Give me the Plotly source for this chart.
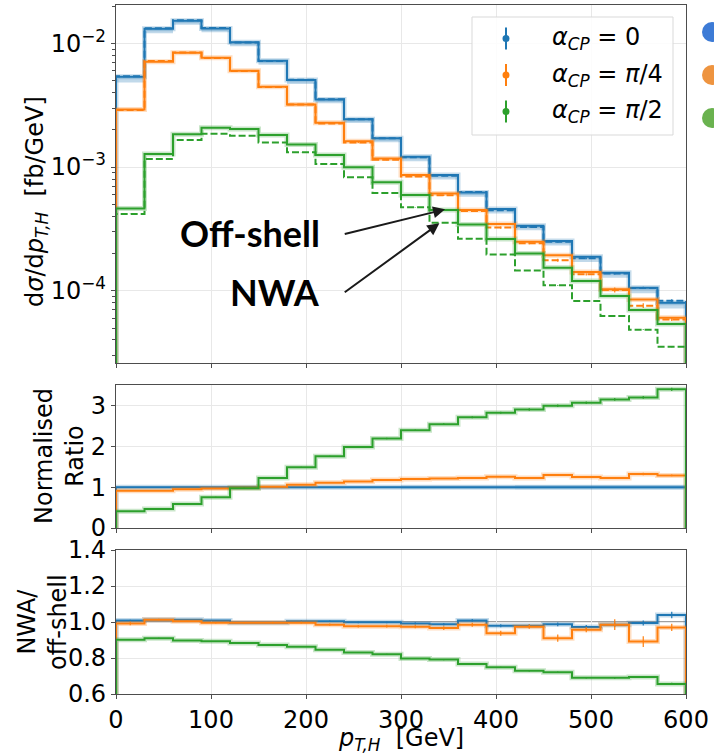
import plotly.graph_objects as go

# ---------------------------------------------------------------- data
bin_edges = [0, 30, 60, 90, 120, 150, 180, 210, 240, 270, 300,
             330, 360, 390, 420, 450, 480, 510, 540, 570, 600]

# off-shell differential cross sections  [fb/GeV]
offshell_cp0 = [5.37e-3, 1.31e-2, 1.52e-2, 1.32e-2, 1.02e-2, 7.23e-3, 5.05e-3,
                3.52e-3, 2.44e-3, 1.71e-3, 1.21e-3, 8.61e-4, 6.24e-4, 4.57e-4,
                3.35e-4, 2.52e-4, 1.88e-4, 1.40e-4, 1.06e-4, 8.0e-5]
offshell_cp_pi4 = [2.92e-3, 7.10e-3, 8.39e-3, 7.65e-3, 6.00e-3, 4.46e-3, 3.21e-3,
                   2.28e-3, 1.62e-3, 1.175e-3, 8.61e-4, 6.12e-4, 4.49e-4, 3.46e-4,
                   2.49e-4, 1.94e-4, 1.42e-4, 1.03e-4, 8.51e-5, 6.05e-5]
offshell_cp_pi2 = [4.63e-4, 1.274e-3, 1.845e-3, 2.08e-3, 2.03e-3, 1.815e-3, 1.525e-3,
                   1.25e-3, 9.95e-4, 7.52e-4, 5.94e-4, 4.49e-4, 3.44e-4, 2.62e-4,
                   2.00e-4, 1.535e-4, 1.197e-4, 9.06e-5, 6.98e-5, 5.38e-5]

# relative size of the alpha_CP = 0 uncertainty band (below the central line)
band_rel_cp0 = [0.10, 0.08, 0.07, 0.07, 0.07, 0.07, 0.07, 0.07, 0.07, 0.07,
                0.08, 0.08, 0.08, 0.08, 0.08, 0.08, 0.09, 0.09, 0.10, 0.10]

# NWA / off-shell
nwa_ratio_cp0 = [1.009, 1.013, 1.013, 1.008, 0.996, 0.996, 1.004, 1.004, 0.998, 0.998,
                 0.992, 0.987, 1.009, 0.979, 0.979, 0.987, 0.972, 0.985, 0.994, 1.039]
nwa_ratio_cp_pi4 = [0.992, 1.013, 1.004, 0.996, 0.996, 0.996, 0.996, 0.985, 0.977, 0.977,
                    0.974, 0.966, 0.985, 0.938, 0.974, 0.910, 0.957, 0.985, 0.891, 0.970]
nwa_ratio_cp_pi2 = [0.902, 0.910, 0.897, 0.893, 0.883, 0.872, 0.863, 0.846, 0.831, 0.821,
                    0.797, 0.791, 0.767, 0.748, 0.729, 0.721, 0.690, 0.690, 0.694, 0.656]
nwa_err_cp0 = [0.003, 0.003, 0.003, 0.003, 0.003, 0.003, 0.004, 0.004, 0.005, 0.005,
               0.006, 0.007, 0.008, 0.008, 0.009, 0.010, 0.012, 0.012, 0.014, 0.018]
nwa_err_cp_pi4 = [0.010, 0.005, 0.004, 0.004, 0.004, 0.005, 0.005, 0.006, 0.007, 0.008,
                  0.009, 0.010, 0.011, 0.014, 0.012, 0.020, 0.014, 0.030, 0.030, 0.020]
nwa_err_cp_pi2 = [0.002, 0.002, 0.002, 0.002, 0.002, 0.002, 0.002, 0.002, 0.003, 0.003,
                  0.003, 0.003, 0.003, 0.004, 0.004, 0.004, 0.004, 0.005, 0.005, 0.006]

# normalised ratio to alpha_CP = 0
norm_ratio_cp0 = [1.0] * 20
norm_band_cp0 = [0.03, 0.03, 0.03, 0.03, 0.03, 0.03, 0.03, 0.03, 0.03, 0.03,
                 0.04, 0.04, 0.04, 0.04, 0.05, 0.05, 0.05, 0.05, 0.05, 0.05]
norm_ratio_cp_pi4 = [0.91, 0.91, 0.951, 0.967, 0.984, 1.008, 1.057, 1.107, 1.139, 1.172,
                     1.197, 1.213, 1.221, 1.254, 1.221, 1.295, 1.246, 1.221, 1.32, 1.287]
norm_ratio_cp_pi2 = [0.41, 0.467, 0.59, 0.754, 0.975, 1.221, 1.484, 1.754, 1.984, 2.19,
                     2.393, 2.54, 2.713, 2.82, 2.90, 2.99, 3.066, 3.148, 3.197, 3.393]
norm_err_cp_pi4 = [0.005, 0.005, 0.005, 0.005, 0.005, 0.006, 0.006, 0.007, 0.008, 0.009,
                   0.010, 0.011, 0.012, 0.013, 0.014, 0.020, 0.016, 0.020, 0.030, 0.020]
norm_err_cp_pi2 = [0.005, 0.005, 0.006, 0.008, 0.010, 0.012, 0.014, 0.016, 0.018, 0.020,
                   0.020, 0.022, 0.024, 0.026, 0.028, 0.030, 0.030, 0.035, 0.035, 0.040]

series_names = ["α_CP = 0", "α_CP = π/4", "α_CP = π/2"]
legend_labels = ["<i>α</i><sub><i>CP</i></sub> = 0",
                 "<i>α</i><sub><i>CP</i></sub> = <i>π</i>/4",
                 "<i>α</i><sub><i>CP</i></sub> = <i>π</i>/2"]
colors = ["#1f77b4", "#ff7f0e", "#2ca02c"]
x_ticks = [0, 100, 200, 300, 400, 500, 600]

FONT = "DejaVu Sans"
FS = 24
AXIS_COLOR = "#4d4d4d"
GRID_COLOR = "#e8e8e8"

# figure geometry (pixels)
W, H = 714, 754
ML, MR, MT, MB = 116, 28, 5, 60
PW, PH = W - ML - MR, H - MT - MB


def px2x(px):
    return (px - ML) / PW


def py2y(py):
    return (H - MB - py) / PH


def step_xy(vals, base):
    """matplotlib-style 'step' histogram outline (with line_shape='hv')."""
    xs = [bin_edges[0]] + bin_edges[:-1] + [bin_edges[-1], bin_edges[-1]]
    ys = [base] + list(vals) + [vals[-1], base]
    return xs, ys


centers = [(a + b) / 2 for a, b in zip(bin_edges[:-1], bin_edges[1:])]

fig = go.Figure()

LOG_BASE = 1e-9

# ---------------------------------------------------------------- top panel
offshell = [offshell_cp0, offshell_cp_pi4, offshell_cp_pi2]
nwa_ratio = [nwa_ratio_cp0, nwa_ratio_cp_pi4, nwa_ratio_cp_pi2]
nwa_err = [nwa_err_cp0, nwa_err_cp_pi4, nwa_err_cp_pi2]

# uncertainty band for alpha_CP = 0
lo = [v * (1 - r) for v, r in zip(offshell_cp0, band_rel_cp0)]
hi = [v * 1.01 for v in offshell_cp0]
xs, ys = step_xy(lo, lo[0])
fig.add_trace(go.Scatter(x=xs[1:-1], y=ys[1:-1], mode="lines", line_shape="hv",
                         line=dict(width=0), hoverinfo="skip", showlegend=False,
                         xaxis="x", yaxis="y"))
xs, ys = step_xy(hi, hi[0])
fig.add_trace(go.Scatter(x=xs[1:-1], y=ys[1:-1], mode="lines", line_shape="hv",
                         line=dict(width=0), fill="tonexty",
                         fillcolor="rgba(31,119,180,0.28)", hoverinfo="skip",
                         showlegend=False, xaxis="x", yaxis="y"))

for i in range(3):
    nwa = [v * r for v, r in zip(offshell[i], nwa_ratio[i])]
    # NWA (dashed)
    xs, ys = step_xy(nwa, LOG_BASE)
    fig.add_trace(go.Scatter(x=xs, y=ys, mode="lines", line_shape="hv",
                             line=dict(color=colors[i], width=2, dash="7px,3px"),
                             name=series_names[i] + " NWA", showlegend=False,
                             xaxis="x", yaxis="y"))
    fig.add_trace(go.Scatter(x=centers, y=nwa, mode="markers",
                             marker=dict(size=1, color=colors[i], opacity=0),
                             error_y=dict(type="data", array=[v * e * 1.5 for v, e in zip(nwa, nwa_err[i])],
                                          color=colors[i], thickness=1.2, width=0),
                             showlegend=False, hoverinfo="skip", xaxis="x", yaxis="y"))
    # off-shell (solid) with a faint halo
    xs, ys = step_xy(offshell[i], LOG_BASE)
    fig.add_trace(go.Scatter(x=xs, y=ys, mode="lines", line_shape="hv",
                             line=dict(color=colors[i], width=5), opacity=0.25,
                             showlegend=False, hoverinfo="skip", xaxis="x", yaxis="y"))
    fig.add_trace(go.Scatter(x=xs, y=ys, mode="lines", line_shape="hv",
                             line=dict(color=colors[i], width=2),
                             name=series_names[i], showlegend=False,
                             xaxis="x", yaxis="y"))

# ---------------------------------------------------------------- middle panel
lo = [1 - b for b in norm_band_cp0]
hi = [1 + b for b in norm_band_cp0]
xs, ys = step_xy(lo, lo[0])
fig.add_trace(go.Scatter(x=xs[1:-1], y=ys[1:-1], mode="lines", line_shape="hv",
                         line=dict(width=0), hoverinfo="skip", showlegend=False,
                         xaxis="x2", yaxis="y2"))
xs, ys = step_xy(hi, hi[0])
fig.add_trace(go.Scatter(x=xs[1:-1], y=ys[1:-1], mode="lines", line_shape="hv",
                         line=dict(width=0), fill="tonexty",
                         fillcolor="rgba(31,119,180,0.25)", hoverinfo="skip",
                         showlegend=False, xaxis="x2", yaxis="y2"))

norm_ratio = [norm_ratio_cp0, norm_ratio_cp_pi4, norm_ratio_cp_pi2]
norm_err = [[0.0] * 20, norm_err_cp_pi4, norm_err_cp_pi2]
for i in range(3):
    xs, ys = step_xy(norm_ratio[i], 0)
    fig.add_trace(go.Scatter(x=xs, y=ys, mode="lines", line_shape="hv",
                             line=dict(color=colors[i], width=5), opacity=0.25,
                             showlegend=False, hoverinfo="skip", xaxis="x2", yaxis="y2"))
    fig.add_trace(go.Scatter(x=xs, y=ys, mode="lines", line_shape="hv",
                             line=dict(color=colors[i], width=2),
                             showlegend=False, xaxis="x2", yaxis="y2"))
    if i > 0:
        fig.add_trace(go.Scatter(x=centers, y=norm_ratio[i], mode="markers",
                                 marker=dict(size=1, color=colors[i], opacity=0),
                                 error_y=dict(type="data", array=norm_err[i],
                                              color=colors[i], thickness=1.2, width=0),
                                 showlegend=False, hoverinfo="skip",
                                 xaxis="x2", yaxis="y2"))

# ---------------------------------------------------------------- bottom panel
for i in range(3):
    xs, ys = step_xy(nwa_ratio[i], 0)
    fig.add_trace(go.Scatter(x=xs, y=ys, mode="lines", line_shape="hv",
                             line=dict(color=colors[i], width=5), opacity=0.25,
                             showlegend=False, hoverinfo="skip", xaxis="x3", yaxis="y3"))
    fig.add_trace(go.Scatter(x=xs, y=ys, mode="lines", line_shape="hv",
                             line=dict(color=colors[i], width=2),
                             showlegend=False, xaxis="x3", yaxis="y3"))
    fig.add_trace(go.Scatter(x=centers, y=nwa_ratio[i], mode="markers",
                             marker=dict(size=1, color=colors[i], opacity=0),
                             error_y=dict(type="data", array=nwa_err[i],
                                          color=colors[i], thickness=1.2, width=0),
                             showlegend=False, hoverinfo="skip", xaxis="x3", yaxis="y3"))

# ---------------------------------------------------------------- axes
top_dom = [py2y(363), 1.0]
mid_dom = [py2y(528), py2y(385)]
bot_dom = [0.0, py2y(550)]

xcommon = dict(range=[0, 600], tickvals=x_ticks, showgrid=True, gridcolor=GRID_COLOR,
               gridwidth=1, zeroline=False, showline=True, linecolor=AXIS_COLOR,
               linewidth=1.3, mirror=True, ticks="outside", ticklen=4,
               tickcolor=AXIS_COLOR, automargin=False,
               tickfont=dict(family=FONT, size=FS, color="black"))
ycommon = dict(showgrid=True, gridcolor=GRID_COLOR, gridwidth=1, zeroline=False,
               showline=True, linecolor=AXIS_COLOR, linewidth=1.3, mirror=True,
               ticks="outside", ticklen=4, tickcolor=AXIS_COLOR, automargin=False,
               tickfont=dict(family=FONT, size=FS, color="black"))

minor_vals = []
for dec in [1e-5, 1e-4, 1e-3, 1e-2]:
    for k in range(2, 10):
        minor_vals.append(k * dec)

fig.update_layout(
    xaxis=dict(xcommon, domain=[0, 1], anchor="y", showticklabels=False),
    yaxis=dict(ycommon, domain=top_dom, anchor="x", type="log",
               range=[-4.584, -1.690],
               tickvals=[1e-4, 1e-3, 1e-2],
               ticktext=["10<sup>−4</sup>", "10<sup>−3</sup>", "10<sup>−2</sup>"],
               minor=dict(tickvals=minor_vals, ticks="outside", ticklen=2.5,
                          tickcolor=AXIS_COLOR, showgrid=False)),
    xaxis2=dict(xcommon, domain=[0, 1], anchor="y2", matches="x", showticklabels=False),
    yaxis2=dict(ycommon, domain=mid_dom, anchor="x2", range=[0, 3.5],
                tickvals=[0, 1, 2, 3]),
    xaxis3=dict(xcommon, domain=[0, 1], anchor="y3", matches="x", showticklabels=True),
    yaxis3=dict(ycommon, domain=bot_dom, anchor="x3", range=[0.6, 1.4],
                tickvals=[0.6, 0.8, 1.0, 1.2, 1.4],
                ticktext=["0.6", "0.8", "1.0", "1.2", "1.4"]),
)

shapes = []
# reference line at unity in the NWA / off-shell panel
shapes.append(dict(type="line", xref="x3", yref="y3", x0=0, x1=600, y0=1.0, y1=1.0,
                   line=dict(color="#a0a0a0", width=2), layer="below"))

# legend box
lx0, lx1, ly0, ly1 = 472, 673, 17, 135
shapes.append(dict(type="rect", xref="paper", yref="paper",
                   x0=px2x(lx0), x1=px2x(lx1), y0=py2y(ly1), y1=py2y(ly0),
                   line=dict(color="#d9d9d9", width=1),
                   fillcolor="rgba(255,255,255,0.85)", layer="above"))
entry_y = [38.5, 75, 111.5]
annotations = []
for i in range(3):
    cy = entry_y[i]
    shapes.append(dict(type="line", xref="paper", yref="paper",
                       x0=px2x(506), x1=px2x(506), y0=py2y(cy + 11), y1=py2y(cy - 11),
                       line=dict(color=colors[i], width=2), layer="above"))
    shapes.append(dict(type="circle", xref="paper", yref="paper",
                       x0=px2x(502.5), x1=px2x(509.5), y0=py2y(cy + 3.5), y1=py2y(cy - 3.5),
                       line=dict(color=colors[i], width=0), fillcolor=colors[i],
                       layer="above"))
    annotations.append(dict(xref="paper", yref="paper", x=px2x(550), y=py2y(cy),
                            xanchor="left", yanchor="middle", showarrow=False,
                            text=legend_labels[i],
                            font=dict(family=FONT, size=FS, color="black")))

# markers of a second key, running off the right-hand edge
side_colors = ["#3d7bd6", "#ee9440", "#6ab24f"]
for cy, c in zip([32, 75, 118], side_colors):
    shapes.append(dict(type="circle", xref="paper", yref="paper",
                       x0=px2x(702), x1=px2x(722), y0=py2y(cy + 10), y1=py2y(cy - 10),
                       line=dict(width=0), fillcolor=c, layer="above"))

# Off-shell / NWA labels with arrows
annotations.append(dict(xref="paper", yref="paper", x=px2x(322), y=py2y(233),
                        xanchor="right", yanchor="middle", showarrow=False,
                        text="<b>Off-shell</b>",
                        font=dict(family="Lato", size=36, color="black")))
annotations.append(dict(xref="paper", yref="paper", x=px2x(322), y=py2y(292),
                        xanchor="right", yanchor="middle", showarrow=False,
                        text="<b>NWA</b>",
                        font=dict(family="Lato", size=36, color="black")))
annotations.append(dict(xref="x", yref="y", x=346.4, y=-3.342,
                        axref="x", ayref="y", ax=239.2, ay=-3.544,
                        showarrow=True, arrowhead=2, arrowsize=1.2, arrowwidth=2,
                        arrowcolor="#1a1a1a", text=""))
annotations.append(dict(xref="x", yref="y", x=340.4, y=-3.455,
                        axref="x", ayref="y", ax=239.2, ay=-4.021,
                        showarrow=True, arrowhead=2, arrowsize=1.2, arrowwidth=2,
                        arrowcolor="#1a1a1a", text=""))

# axis titles
annotations.append(dict(xref="paper", yref="paper", x=px2x(37), y=py2y(202),
                        xanchor="center", yanchor="middle", textangle=-90, showarrow=False,
                        text="d<i>σ</i>/d<i>p</i><sub><i>T,H</i></sub>\u00a0\u00a0[fb/GeV]",
                        font=dict(family=FONT, size=FS, color="black")))
annotations.append(dict(xref="paper", yref="paper", x=px2x(59), y=py2y(456),
                        xanchor="center", yanchor="middle", textangle=-90, showarrow=False,
                        text="Normalised<br>Ratio",
                        font=dict(family=FONT, size=FS, color="black")))
annotations.append(dict(xref="paper", yref="paper", x=px2x(42), y=py2y(622),
                        xanchor="center", yanchor="middle", textangle=-90, showarrow=False,
                        text="NWA/<br>off-shell",
                        font=dict(family=FONT, size=FS, color="black")))
annotations.append(dict(xref="paper", yref="paper", x=0.5, y=py2y(739),
                        xanchor="center", yanchor="middle", showarrow=False,
                        text="<i>p</i><sub><i>T,H</i></sub>\u00a0\u00a0[GeV]",
                        font=dict(family=FONT, size=FS, color="black")))

fig.update_layout(
    width=W, height=H,
    margin=dict(l=ML, r=MR, t=MT, b=MB, autoexpand=False),
    paper_bgcolor="white", plot_bgcolor="white",
    font=dict(family=FONT, size=FS, color="black"),
    showlegend=False,
    shapes=shapes,
    annotations=annotations,
)

fig.write_html("out.html")
